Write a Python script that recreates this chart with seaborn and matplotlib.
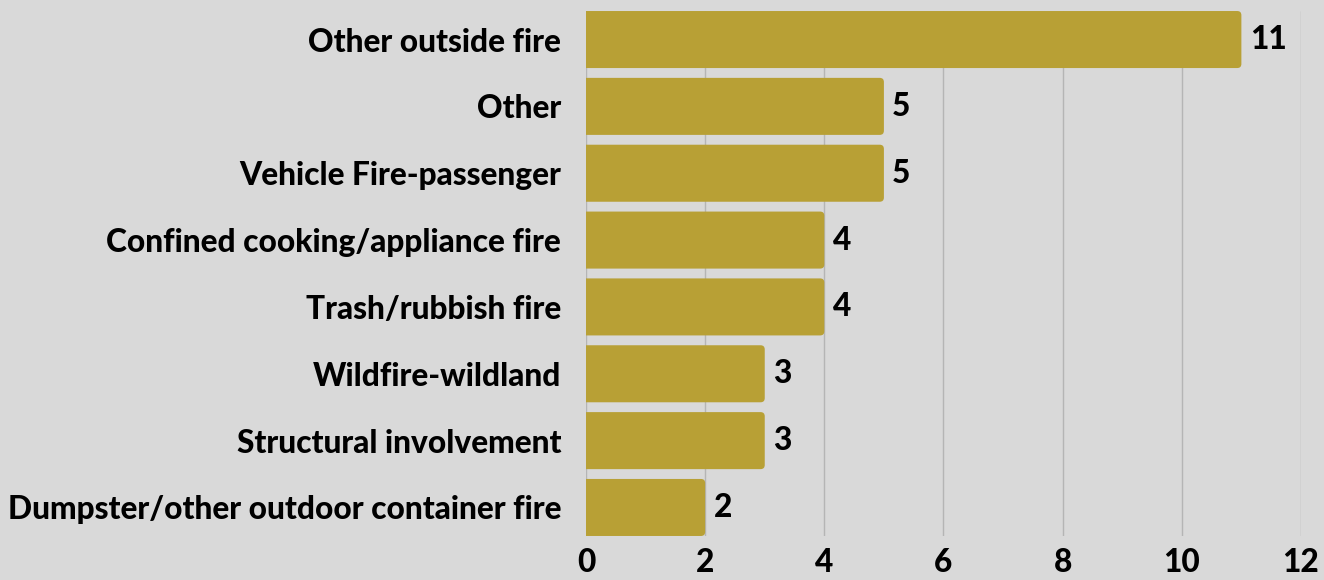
import matplotlib
matplotlib.use("Agg")
import matplotlib.pyplot as plt
from matplotlib.patches import FancyBboxPatch
import seaborn as sns
import pandas as pd

categories = [
    "Other outside fire",
    "Other",
    "Vehicle Fire-passenger",
    "Confined cooking/appliance fire",
    "Trash/rubbish fire",
    "Wildfire-wildland",
    "Structural involvement",
    "Dumpster/other outdoor container fire",
]
counts = [11, 5, 5, 4, 4, 3, 3, 2]
x_ticks = [0, 2, 4, 6, 8, 10, 12]

BG = "#d9d9d9"
BAR = "#b8a035"
FS = 22.8
FW = 900
BW = 0.853

sns.set_theme(style="white")
plt.rcParams["font.family"] = ["Lato", "DejaVu Sans"]
plt.rcParams["text.color"] = "black"

df = pd.DataFrame({"category": categories, "count": counts})

fig = plt.figure(figsize=(13.24, 5.8), dpi=100, facecolor=BG)
ax = fig.add_axes([0.4426, 0.0759, 0.9826 - 0.4426, 0.9810 - 0.0759])
ax.set_facecolor(BG)

sns.barplot(data=df, y="category", x="count", orient="h", color=BAR,
            saturation=1, width=BW, ax=ax, zorder=3, linewidth=0,
            edgecolor="none")

ax.set_xlim(0, 12)
ax.set_ylim(len(categories) - 1 + BW / 2, -BW / 2)

# rounded bar ends
r = 0.07
aspect = (1 / 66.85) / (1 / 59.6)
for p in list(ax.patches):
    x0, y0 = p.get_x(), p.get_y()
    w, h = p.get_width(), p.get_height()
    fb = FancyBboxPatch((x0 - r, y0), w + r, h,
                        boxstyle=f"round,pad=0,rounding_size={r}",
                        mutation_aspect=aspect, facecolor=BAR,
                        edgecolor="none", linewidth=0, zorder=3)
    p.set_visible(False)
    ax.add_patch(fb)

ax.set_xticks(x_ticks)
ax.set_xticklabels([str(t) for t in x_ticks], fontsize=FS, fontweight=FW,
                   color="black")
ax.set_yticks(range(len(categories)))
ax.set_yticklabels(categories, fontsize=FS, fontweight=FW, color="black")
ax.tick_params(axis="y", length=0, pad=18)
ax.tick_params(axis="x", length=0, pad=9)
ax.set_xlabel("")
ax.set_ylabel("")
ax.xaxis.grid(True, color="#b5b5b5", linewidth=1, zorder=0)
ax.yaxis.grid(False)
for s in ax.spines.values():
    s.set_visible(False)

for i, v in enumerate(counts):
    ax.annotate(str(v), xy=(v, i), xytext=(6, 0), textcoords="offset points",
                ha="left", va="center", fontsize=FS, fontweight=FW,
                color="black")

fig.savefig("out.png", dpi=100, facecolor=BG)
